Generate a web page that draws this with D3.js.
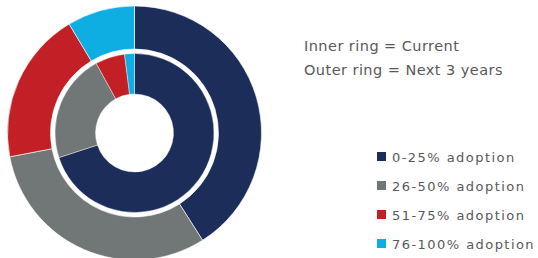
<!DOCTYPE html>
<html>
<head>
<meta charset="utf-8">
<script src="https://cdn.jsdelivr.net/npm/d3@7"></script>
<style>
  body { margin: 0; background: #fff; }
  svg text { font-family: "DejaVu Sans", sans-serif; fill: #58595b; }
</style>
</head>
<body>
<svg id="chart" width="538" height="258"></svg>
<script>
const categories = ["0-25% adoption", "26-50% adoption", "51-75% adoption", "76-100% adoption"];
const currentValues = [70, 22, 6, 2];      // inner ring
const nextValues = [41, 31, 19.4, 8.6];    // outer ring
const notes = ["Inner ring = Current", "Outer ring = Next 3 years"];
const colors = ["#1c2d5a", "#717777", "#c22026", "#0eaee3"];

const svg = d3.select("#chart");
const cx = 134.5, cy = 133;

const color = d3.scaleOrdinal().domain(categories).range(colors);
const pie = d3.pie().sort(null).value(d => d.value);

const toRows = vals => categories.map((c, i) => ({ cat: c, value: vals[i] }));

const g = svg.append("g").attr("transform", `translate(${cx},${cy})`);

// outer ring (next 3 years)
const outerArc = d3.arc().innerRadius(84).outerRadius(127);
g.selectAll("path.outer")
  .data(pie(toRows(nextValues)))
  .enter().append("path")
  .attr("class", "outer")
  .attr("d", outerArc)
  .attr("fill", d => color(d.data.cat))
  .attr("stroke", "#fff")
  .attr("stroke-width", 0.6);

// inner ring (current)
const innerArc = d3.arc().innerRadius(39).outerRadius(79.5);
g.selectAll("path.inner")
  .data(pie(toRows(currentValues)))
  .enter().append("path")
  .attr("class", "inner")
  .attr("d", innerArc)
  .attr("fill", d => color(d.data.cat))
  .attr("stroke", "#fff")
  .attr("stroke-width", 0.4);

// notes
svg.selectAll("text.note")
  .data(notes)
  .enter().append("text")
  .attr("class", "note")
  .attr("x", 304)
  .attr("y", (d, i) => 51 + i * 23.5)
  .style("font-size", "14.5px")
  .style("letter-spacing", "0.45px")
  .text(d => d);

// legend
const legend = svg.selectAll("g.legend")
  .data(categories)
  .enter().append("g")
  .attr("class", "legend")
  .attr("transform", (d, i) => `translate(377,${152 + i * 29})`);

legend.append("rect")
  .attr("width", 9).attr("height", 9)
  .attr("fill", d => color(d));

legend.append("text")
  .attr("x", 15)
  .attr("y", 9.5)
  .style("font-size", "13px")
  .style("letter-spacing", "1.45px")
  .text(d => d);
</script>
</body>
</html>
